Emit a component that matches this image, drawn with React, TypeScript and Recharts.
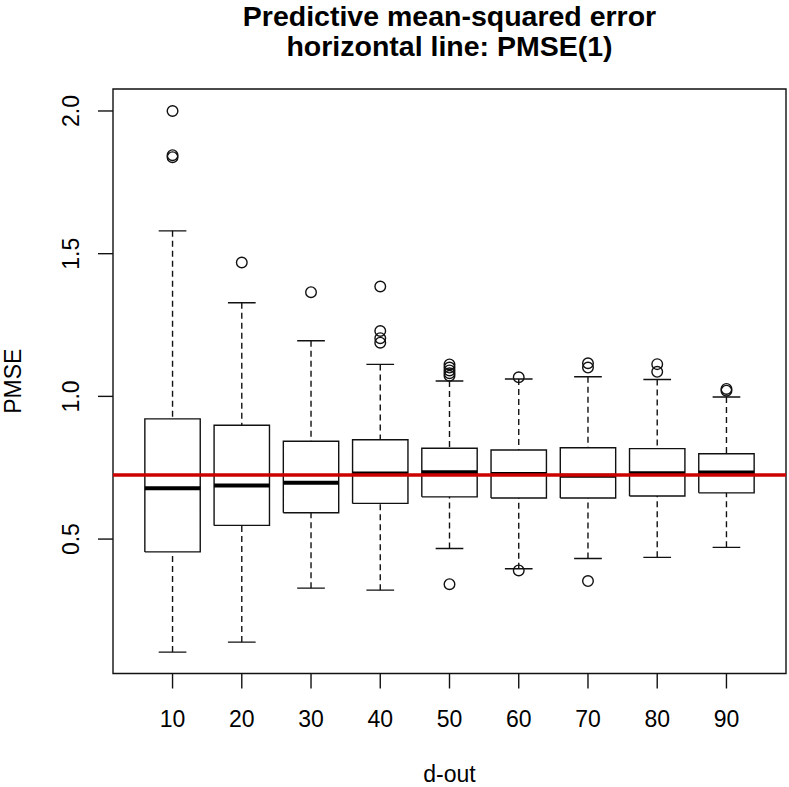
import React from "react";
import {
	ComposedChart,
	Line,
	Scatter,
	XAxis,
	YAxis,
	ReferenceLine,
	ReferenceArea,
} from "recharts";

// d-out groups and the five-number summaries
const groups = [10, 20, 30, 40, 50, 60, 70, 80, 90];
const lowerWhisker = [0.104, 0.139, 0.328, 0.321, 0.467, 0.396, 0.432, 0.436, 0.471];
const lowerQuartile = [0.455, 0.548, 0.592, 0.625, 0.648, 0.644, 0.644, 0.651, 0.662];
const medians = [0.678, 0.688, 0.697, 0.73, 0.734, 0.728, 0.722, 0.731, 0.733];
const upperQuartile = [0.921, 0.899, 0.843, 0.848, 0.818, 0.812, 0.82, 0.817, 0.799];
const upperWhisker = [1.58, 1.328, 1.195, 1.112, 1.054, 1.061, 1.069, 1.059, 0.998];
const outliers = [
	[2.0, 1.845, 1.838],
	[1.469],
	[1.365],
	[1.385, 1.229, 1.204, 1.188],
	[1.112, 1.101, 1.091, 1.081, 1.072, 0.342],
	[1.067, 0.39],
	[1.116, 1.101, 0.353],
	[1.113, 1.086],
	[1.026, 1.02],
];
const pmseOne = 0.7245;
const yTicks = [0.5, 1.0, 1.5, 2.0];

const FONT = '"Liberation Sans", Arial, Helvetica, sans-serif';
const INK = "#111";
const BOX_HALF = 0.4;
const CAP_HALF = 0.2;
const X_DOMAIN: [number, number] = [0.14, 9.86];
const Y_DOMAIN: [number, number] = [0.029, 2.077];

const gap = (x: number) => ({ x, y: null });

const boxPath = groups.flatMap((_, i) => {
	const x = i + 1;
	return [
		{ x: x - BOX_HALF, y: lowerQuartile[i] },
		{ x: x + BOX_HALF, y: lowerQuartile[i] },
		{ x: x + BOX_HALF, y: upperQuartile[i] },
		{ x: x - BOX_HALF, y: upperQuartile[i] },
		{ x: x - BOX_HALF, y: lowerQuartile[i] },
		gap(x),
	];
});

// R draws whiskers from the staple towards the box
const whiskerPath = groups.flatMap((_, i) => {
	const x = i + 1;
	return [
		{ x, y: lowerWhisker[i] },
		{ x, y: lowerQuartile[i] },
		gap(x),
		{ x, y: upperWhisker[i] },
		{ x, y: upperQuartile[i] },
		gap(x),
	];
});

const capPath = groups.flatMap((_, i) => {
	const x = i + 1;
	return [
		{ x: x - CAP_HALF, y: lowerWhisker[i] },
		{ x: x + CAP_HALF, y: lowerWhisker[i] },
		gap(x),
		{ x: x - CAP_HALF, y: upperWhisker[i] },
		{ x: x + CAP_HALF, y: upperWhisker[i] },
		gap(x),
	];
});

const medianPath = groups.flatMap((_, i) => {
	const x = i + 1;
	return [
		{ x: x - BOX_HALF, y: medians[i] },
		{ x: x + BOX_HALF, y: medians[i] },
		gap(x),
	];
});

const outlierPoints = outliers.flatMap((vals, i) =>
	vals.map((y) => ({ x: i + 1, y })),
);

const XTick = ({ x, y, payload }: any) => (
	<text x={x} y={y + 38} textAnchor="middle" fontSize={23} fontFamily={FONT} fill="#000">
		{groups[payload.value - 1]}
	</text>
);

const YTick = ({ x, y, payload }: any) => (
	<text
		x={x - 19}
		y={y}
		textAnchor="middle"
		fontSize={23}
		fontFamily={FONT}
		fill="#000"
		transform={`rotate(-90, ${x - 19}, ${y})`}
	>
		{payload.value.toFixed(1)}
	</text>
);

const Circle = ({ cx, cy }: any) => (
	<circle cx={cx} cy={cy} r={5.3} fill="none" stroke={INK} strokeWidth={1.4} />
);

const titleLine: React.CSSProperties = {
	position: "absolute",
	left: 0,
	width: 899,
	textAlign: "center",
	fontWeight: "bold",
	fontSize: 28.5,
	lineHeight: "32px",
	color: "#000",
	whiteSpace: "nowrap",
};

export default function App() {
	return (
		<div
			style={{
				position: "absolute",
				left: 0,
				top: 0,
				width: 789,
				height: 787,
				background: "#fff",
				fontFamily: FONT,
			}}
		>
			<div style={{ ...titleLine, top: 0 }}>Predictive mean-squared error</div>
			<div style={{ ...titleLine, top: 30 }}>horizontal line: PMSE(1)</div>
			<ComposedChart
				width={789}
				height={787}
				margin={{ top: 89, right: 3, bottom: 0, left: 0 }}
				style={{ position: "absolute", left: 0, top: 0 }}
			>
				<XAxis
					type="number"
					dataKey="x"
					domain={X_DOMAIN}
					ticks={[1, 2, 3, 4, 5, 6, 7, 8, 9]}
					allowDataOverflow
					height={113.5}
					axisLine={false}
					tickSize={15}
					tickMargin={0}
					tickLine={{ stroke: INK, strokeWidth: 1.4 }}
					tick={<XTick />}
					interval={0}
					label={({ viewBox }: any) => (
						<text
							x={viewBox.x + viewBox.width / 2}
							y={viewBox.y + 108.5}
							textAnchor="middle"
							fontSize={23}
							fontFamily={FONT}
							fill="#000"
						>
							d-out
						</text>
					)}
				/>
				<YAxis
					type="number"
					dataKey="y"
					domain={Y_DOMAIN}
					ticks={yTicks}
					allowDataOverflow
					width={113}
					axisLine={false}
					tickSize={15}
					tickMargin={0}
					tickLine={{ stroke: INK, strokeWidth: 1.4 }}
					tick={<YTick />}
					interval={0}
					label={({ viewBox }: any) => {
						const cx = 21;
						const cy = viewBox.y + viewBox.height / 2;
						return (
							<text
								x={cx}
								y={cy}
								textAnchor="middle"
								fontSize={23}
								fontFamily={FONT}
								fill="#000"
								transform={`rotate(-90, ${cx}, ${cy})`}
							>
								PMSE
							</text>
						);
					}}
				/>
				<ReferenceArea
					x1={X_DOMAIN[0]}
					x2={X_DOMAIN[1]}
					y1={Y_DOMAIN[0]}
					y2={Y_DOMAIN[1]}
					fill="none"
					fillOpacity={0}
					stroke={INK}
					strokeWidth={1.4}
					ifOverflow="visible"
				/>
				<Line
					data={whiskerPath}
					dataKey="y"
					stroke={INK}
					strokeWidth={1.4}
					strokeDasharray="6 4"
					dot={false}
					activeDot={false}
					isAnimationActive={false}
				/>
				<Line
					data={capPath}
					dataKey="y"
					stroke={INK}
					strokeWidth={1.4}
					dot={false}
					activeDot={false}
					isAnimationActive={false}
				/>
				<Line
					data={boxPath}
					dataKey="y"
					stroke={INK}
					strokeWidth={1.4}
					dot={false}
					activeDot={false}
					isAnimationActive={false}
				/>
				<Line
					data={medianPath}
					dataKey="y"
					stroke="#000"
					strokeWidth={4}
					dot={false}
					activeDot={false}
					isAnimationActive={false}
				/>
				<Scatter data={outlierPoints} dataKey="y" shape={<Circle />} isAnimationActive={false} />
				<ReferenceLine y={pmseOne} stroke="#CD0000" strokeWidth={3.3} ifOverflow="extendDomain" />
			</ComposedChart>
		</div>
	);
}
